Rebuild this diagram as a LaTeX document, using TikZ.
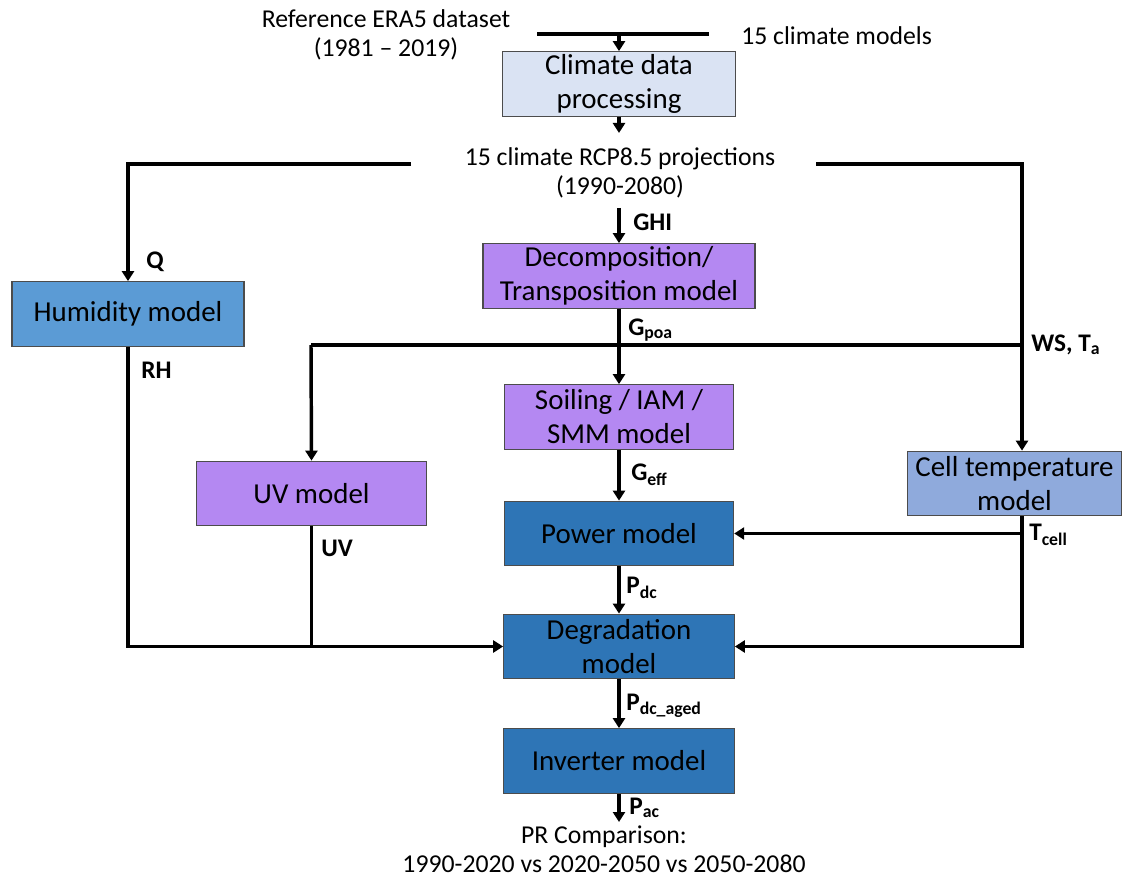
\documentclass[tikz,border=0pt]{standalone}
\usepackage{fontspec}
\setmainfont{Carlito}
\usetikzlibrary{arrows.meta}

\definecolor{procfill}{RGB}{218,227,243}
\definecolor{purp}{RGB}{180,136,242}
\definecolor{humfill}{RGB}{91,155,213}
\definecolor{darkb}{RGB}{46,117,182}
\definecolor{cellfill}{RGB}{143,170,220}

\begin{document}
\begin{tikzpicture}[
    x=0.75pt, y=-0.75pt,
    flow/.style={line width=2.6pt, draw=black},
    flowa/.style={flow, -{Triangle[length=7.5pt,width=9pt]}},
    modbox/.style={rectangle, draw=black!70, line width=0.8pt,
      minimum height=48.5pt, inner sep=0pt, align=center,
      font=\fontsize{21.7}{25.5}\selectfont},
    sig/.style={anchor=west, inner sep=0pt,
      font=\bfseries\fontsize{19}{21}\selectfont},
    txt/.style={align=center, inner sep=0pt,
      font=\fontsize{19.3}{21.8}\selectfont}
  ]
  \useasboundingbox (0,0) rectangle (1139,880);

  % blocks
  \path (619,84) node(proc) [modbox, fill=procfill, minimum width=174.75pt] {
    Climate data\\processing}
  (619,276) node(decomp) [modbox, fill=purp, minimum width=204pt] {
    Decomposition/\\Transposition model}
  (128,314) node(hum) [modbox, fill=humfill, minimum width=174pt] {
    Humidity model}
  (619,417) node(soil) [modbox, fill=purp, minimum width=172pt] {
    Soiling / IAM /\\SMM model}
  (311.5,493.5) node(uv) [modbox, fill=purp, minimum width=173pt] {
    UV model}
  (1014.5,483.5) node(cell) [modbox, fill=cellfill, minimum width=161pt] {
    Cell temperature\\model}
  (619,533.5) node(power) [modbox, fill=darkb, minimum width=172pt] {
    Power model}
  (619,646.5) node(degr) [modbox, fill=darkb, minimum width=173pt] {
    Degradation\\model}
  (619,761) node(inv) [modbox, fill=darkb, minimum width=173pt] {
    Inverter model};

  % texts
  \path (386,35) node(ref) [txt] {Reference ERA5 dataset\\(1981 -- 2019)}
  (741,36) node(models) [txt, anchor=west] {15 climate models}
  (620,173) node(proj) [txt] {15 climate RCP8.5 projections\\(1990-2080)}
  (604,849) node(cmp) [txt] {PR Comparison:\\1990-2020 vs 2020-2050 vs 2050-2080};

  % junctions
  \coordinate (tl) at (537,34);
  \coordinate (tr) at (709,34);
  \coordinate (tm) at (619,34);
  \coordinate (projin) at (619,133);
  \coordinate (projl) at (411,164);
  \coordinate (projr) at (816,164);
  \coordinate (ghi) at (619,208);
  \coordinate (wsj) at (1022,345);
  \coordinate (uvj) at (311,345);
  \coordinate (pac) at (619,822);

  % connectors
  \draw[flow] (tl) -- (tr);
  \draw[flowa] (tm) -- (proc.north);
  \draw[flowa] (proc.south) -- (projin);
  \draw[flowa] (projl) -| (hum.north);
  \draw[flowa] (projr) -| (cell.north -| wsj);
  \draw[flowa] (ghi) -- (decomp.north);
  \draw[flowa] (decomp.south) -- (soil.north);
  \draw[flow] (uvj) -- (wsj);
  \draw[flowa] (uvj) -- (uv.north);
  \draw[flowa] (soil.south) -- (power.north);
  \draw[flowa] (power.south) -- (degr.north);
  \draw[flowa] (degr.south) -- (inv.north);
  \draw[flowa] (inv.south) -- (pac);
  \draw[flowa] (hum.south) |- (degr.west);
  \draw[flow] (uv.south) -- (uv.south |- degr.west);
  \draw[flowa] (cell.south -| wsj) |- (degr.east);
  \draw[flowa] (cell.south -| wsj) |- (power.east);

  % signal labels
  \path (146,262) node(lq) [sig] {Q}
  (141,370) node(lrh) [sig] {RH}
  (633,222) node(lghi) [sig] {GHI}
  (628,330) node(lpoa) [sig] {G\textsubscript{poa}}
  (1031,345) node(lws) [sig] {WS, T\textsubscript{a}}
  (321,548) node(luv) [sig] {UV}
  (631,475) node(leff) [sig] {G\textsubscript{eff}}
  (1029,535) node(lcell) [sig] {T\textsubscript{cell}}
  (626,588) node(ldc) [sig] {P\textsubscript{dc}}
  (626,706) node(lage) [sig] {P\textsubscript{dc\_aged}}
  (629,808) node(lac) [sig] {P\textsubscript{ac}};
\end{tikzpicture}
\end{document}
